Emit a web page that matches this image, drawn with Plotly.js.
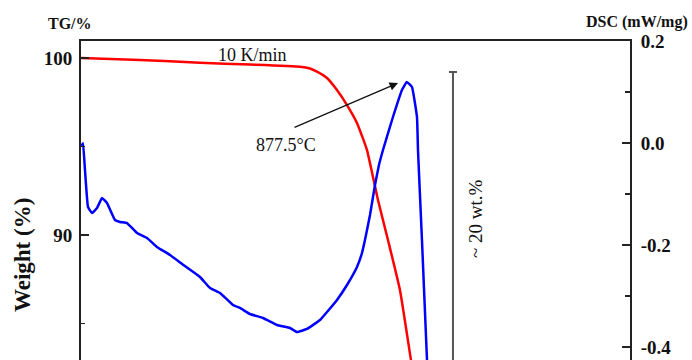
<!DOCTYPE html>
<html>
<head>
<meta charset="utf-8">
<script src="https://cdn.plot.ly/plotly-3.0.1.min.js"></script>
<style>html,body{margin:0;padding:0;background:#fff;}#chart{width:692px;height:360px;}</style>
</head>
<body>
<div id="chart"></div>
<script>
// TG curve (temperature in °C, weight in %)
const tgTemp   = [100, 240.8, 383.9, 503.2, 622.5, 646.4, 663.1, 686.9, 710.8, 734.7, 758.5, 782.4, 808.6, 832.5, 861.1, 887.4, 892.2];
const tgWeight = [100.0, 99.89, 99.73, 99.63, 99.51, 99.41, 99.23, 98.87, 98.19, 97.34, 96.33, 94.80, 91.98, 89.72, 86.89, 82.94, 82.37];

// DSC curve (temperature in °C, heat flow in mW/mg)
const dscTemp = [101.2, 104.8, 109.5, 116.7, 126.2, 138.2, 150.1, 162.0, 181.1, 193.1, 209.8, 233.6, 257.5, 281.3, 312.4, 341.0, 383.9, 407.8, 431.7, 462.7, 479.4, 503.2, 534.3, 567.7, 598.7, 615.4, 639.2, 670.3, 687.0, 710.8, 734.7, 758.5, 770.5, 777.6, 789.6, 801.5, 811.0, 820.6, 844.4, 865.9, 877.5, 889.8, 901.7, 904.1, 913.6, 925.6, 928.0];
const dscValue = [-0.0059, -0.0006, -0.0529, -0.1255, -0.1373, -0.1275, -0.1078, -0.1176, -0.1510, -0.1549, -0.1569, -0.1765, -0.1863, -0.2039, -0.2196, -0.2373, -0.2627, -0.2843, -0.2941, -0.3176, -0.3235, -0.3353, -0.3431, -0.3569, -0.3627, -0.3706, -0.3647, -0.3471, -0.3314, -0.3078, -0.2784, -0.2431, -0.2157, -0.1902, -0.1412, -0.0824, -0.0431, -0.0137, 0.0510, 0.1039, 0.1196, 0.1098, 0.0510, -0.0137, -0.1902, -0.4255, -0.4647];

// Axis ticks
const leftTickVals  = [100, 90];
const leftTickText  = ['100', '90'];
const leftMinorVals = [95, 85];
const rightTickVals  = [0.2, 0.0, -0.2, -0.4];
const rightTickText  = ['0.2', '0.0', '-0.2', '-0.4'];
const rightMinorVals = [0.1, -0.1, -0.3];

// Annotated peak
const peakTemp = 877.5;
const peakLabel = '877.5°C';

const serif = '"Liberation Serif", "Times New Roman", Times, serif';

const traces = [
  {x: tgTemp, y: tgWeight, type: 'scatter', mode: 'lines', yaxis: 'y',
   line: {color: '#ff0000', width: 2.5, shape: 'spline', smoothing: 0.4}, hoverinfo: 'skip'},
  {x: dscTemp, y: dscValue, type: 'scatter', mode: 'lines', yaxis: 'y2',
   line: {color: '#0000ff', width: 2.5, shape: 'spline', smoothing: 0.3}, hoverinfo: 'skip'}
];

const layout = {
  width: 692, height: 360,
  margin: {l: 81, r: 62, t: 41, b: 0, pad: 0},
  paper_bgcolor: '#fff', plot_bgcolor: '#fff',
  showlegend: false,
  font: {family: serif, color: '#111'},
  xaxis: {
    range: [100, 1410], side: 'top', showline: true, linecolor: '#222', linewidth: 2,
    showticklabels: false, ticks: '', showgrid: false, zeroline: false, fixedrange: true
  },
  yaxis: {
    range: [82.94, 100.96], showline: true, linecolor: '#222', linewidth: 2,
    tickmode: 'array', tickvals: leftTickVals, ticktext: leftTickText,
    ticks: 'inside', ticklen: 8, tickwidth: 1.5, tickcolor: '#222',
    minor: {tickmode: 'array', tickvals: leftMinorVals, ticks: 'inside', ticklen: 4, tickwidth: 1.5, tickcolor: '#222'},
    tickfont: {family: serif, size: 19, color: '#111', weight: 'bold'},
    showgrid: false, zeroline: false, ticklabelstandoff: 3
  },
  yaxis2: {
    range: [-0.4255, 0.2], overlaying: 'y', side: 'right', showline: true, linecolor: '#222', linewidth: 2,
    tickmode: 'array', tickvals: rightTickVals, ticktext: rightTickText,
    ticks: 'inside', ticklen: 8, tickwidth: 1.5, tickcolor: '#222',
    minor: {tickmode: 'array', tickvals: rightMinorVals, ticks: 'inside', ticklen: 5, tickwidth: 1.5, tickcolor: '#222'},
    tickfont: {family: serif, size: 19, color: '#111', weight: 'bold'},
    showgrid: false, zeroline: false, ticklabelstandoff: 5
  },
  shapes: [
    {type: 'line', xref: 'x', yref: 'paper', x0: 987.6, x1: 987.6, y0: -0.05, y1: 0.9028,
     line: {color: '#555', width: 2}},
    {type: 'line', xref: 'x', yref: 'paper', x0: 978, x1: 997, y0: 0.9028, y1: 0.9028,
     line: {color: '#555', width: 2}}
  ],
  annotations: [
    {text: '<b>TG/%</b>', xref: 'paper', yref: 'paper', x: -0.02, y: 1.0564, showarrow: false,
     font: {family: serif, size: 16, color: '#111'}, xanchor: 'center', yanchor: 'middle'},
    {text: '<b>DSC (mW/mg)</b>', xref: 'paper', yref: 'paper', x: 1.1093, y: 1.0596, showarrow: false,
     font: {family: serif, size: 16, color: '#111'}, xanchor: 'right', yanchor: 'middle'},
    {text: '<b>Weight (%)</b>', xref: 'paper', yref: 'paper', x: -0.1075, y: 0.329, showarrow: false,
     textangle: -90, font: {family: serif, size: 23, color: '#111'}, xanchor: 'center', yanchor: 'middle'},
    {text: '10 K/min', xref: 'paper', yref: 'paper', x: 0.3115, y: 0.956, showarrow: false,
     font: {family: serif, size: 18, color: '#111'}, xanchor: 'center', yanchor: 'middle'},
    {text: peakLabel, xref: 'paper', yref: 'paper', x: 0.3734, y: 0.674, showarrow: false,
     font: {family: serif, size: 18, color: '#111'}, xanchor: 'center', yanchor: 'middle'},
    {text: '', xref: 'x', yref: 'y2', x: peakTemp - 21, y: 0.1176, showarrow: true,
     ax: -105, ay: 45, arrowhead: 2, arrowsize: 1.3, arrowwidth: 1.3, arrowcolor: '#111', standoff: 0},
    {text: '~ 20 wt.%', xref: 'x', yref: 'paper', x: 1040, y: 0.445, showarrow: false, textangle: -90,
     font: {family: serif, size: 19, color: '#111'}, xanchor: 'center', yanchor: 'middle'}
  ]
};

Plotly.newPlot('chart', traces, layout, {staticPlot: true, displayModeBar: false});
</script>
</body>
</html>
